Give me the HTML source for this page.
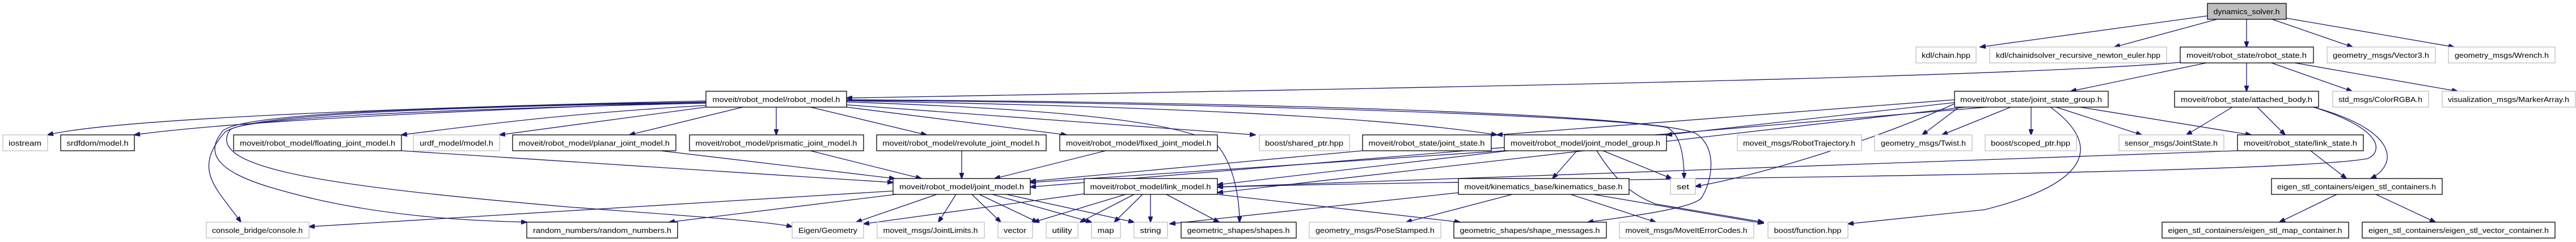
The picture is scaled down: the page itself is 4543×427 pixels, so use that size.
<!DOCTYPE html>
<html><head><meta charset="utf-8"><style>
html,body{margin:0;padding:0;background:#fff;}
svg{display:block;}
text{font-family:"Liberation Sans",sans-serif;font-size:13px;fill:#000;}
.e{fill:none;stroke:#191970;stroke-width:1.3;}
.b{fill:#fff;stroke:#000;stroke-width:1.3;}
.g{fill:#fff;stroke:#bfbfbf;stroke-width:1.3;}
</style></head><body>
<svg width="4543" height="427" viewBox="0 0 4543 427" xmlns="http://www.w3.org/2000/svg">
<defs><marker id="a" markerWidth="11" markerHeight="8" refX="10" refY="4" orient="auto" markerUnits="userSpaceOnUse"><path d="M0,0 L11,4 L0,8 z" fill="#191970" stroke="#191970"/></marker></defs>
<g marker-end="url(#a)">
<!-- dynamics_solver -->
<path class="e" d="M3893,28 L3492,83"/>
<path class="e" d="M3910,34 L3729,83"/>
<path class="e" d="M3962,34 L3962,83"/>
<path class="e" d="M4007,34 L4149,83"/>
<path class="e" d="M4032,32 L4328,83"/>
<!-- robot_state -->
<path class="e" d="M3845,110 C3500,140 2200,160 1493,173"/>
<path class="e" d="M3891,111 L3652,161"/>
<path class="e" d="M3962,111 L3962,161"/>
<path class="e" d="M4006,111 L4148,161"/>
<path class="e" d="M4047,111 L4334,161"/>
<!-- robot_model -->
<path class="e" d="M1245,178 C700,190 200,210 84,238"/>
<path class="e" d="M1245,180 C800,195 400,215 237,238"/>
<path class="e" d="M1245,186 C1000,200 850,220 708,238"/>
<path class="e" d="M1245,189 L881,238"/>
<path class="e" d="M1310,189 L1110,238"/>
<path class="e" d="M1369,189 L1369,238"/>
<path class="e" d="M1429,189 L1634,238"/>
<path class="e" d="M1493,189 L1881,238"/>
<path class="e" d="M1493,185 L2214,238"/>
<path class="e" d="M1493,178 C1900,185 2400,200 2640,238"/>
<path class="e" d="M1493,177 C2000,180 2800,200 2940,225 Q2970,240 2970,315"/>
<path class="e" d="M1493,176 C2200,180 2900,200 2990,235 C3030,260 3020,320 3000,350 C2980,370 2850,385 2800,392"/>
<path class="e" d="M1493,180 C1800,190 2100,210 2150,260 C2180,300 2186,360 2186,392"/>
<path class="e" d="M1245,181 C700,190 420,205 395,235 C340,300 380,330 425,392"/>
<path class="e" d="M1245,180 C650,190 400,205 390,235 C340,300 470,330 550,350 C700,385 850,390 929,392"/>
<path class="e" d="M1245,182 C700,195 420,210 405,230 C360,300 600,330 1000,365 C1200,380 1350,390 1397,400"/>
<!-- *_joint_model -> joint_model -->
<path class="e" d="M708,266 L1575,322"/>
<path class="e" d="M1165,266 L1578,315"/>
<path class="e" d="M1429,266 L1625,315"/>
<path class="e" d="M1696,266 L1696,315"/>
<path class="e" d="M1950,266 L1754,315"/>
<!-- joint_model -->
<path class="e" d="M1575,337 L545,400"/>
<path class="e" d="M1580,343 L1180,392"/>
<path class="e" d="M1652,343 L1510,392"/>
<path class="e" d="M1686,343 L1655,392"/>
<path class="e" d="M1714,343 L1765,392"/>
<path class="e" d="M1727,343 L1830,392"/>
<path class="e" d="M1750,343 L1925,392"/>
<path class="e" d="M1775,343 L2000,392"/>
<!-- link_model -->
<path class="e" d="M1912,342 L1523,395"/>
<path class="e" d="M1985,343 L1823,392"/>
<path class="e" d="M2000,343 L1905,392"/>
<path class="e" d="M2015,343 L1965,392"/>
<path class="e" d="M2029,343 L2029,392"/>
<path class="e" d="M2057,343 L2150,392"/>
<path class="e" d="M2147,343 L2575,392"/>
<!-- joint_model_group -->
<path class="e" d="M2653,266 L1817,322"/>
<path class="e" d="M2660,266 L2147,326"/>
<path class="e" d="M2781,266 L2738,315"/>
<path class="e" d="M2827,266 L2948,315"/>
<path class="e" d="M2816,266 C2850,320 2880,345 2920,360 L3110,392"/>
<!-- joint_state -->
<path class="e" d="M2403,266 L1817,320"/>
<!-- kinematics_base -->
<path class="e" d="M2572,340 L2063,395"/>
<path class="e" d="M2667,343 L2480,392"/>
<path class="e" d="M2770,343 L2920,392"/>
<path class="e" d="M2810,343 L3110,394"/>
<!-- joint_state_group -->
<path class="e" d="M3447,181 L2939,238"/>
<path class="e" d="M3447,176 L2640,238"/>
<path class="e" d="M3505,189 L1817,330"/>
<path class="e" d="M3466,189 L2147,340"/>
<path class="e" d="M3455,189 L3390,238"/>
<path class="e" d="M3546,189 L3425,238"/>
<path class="e" d="M3582,189 L3582,238"/>
<path class="e" d="M3626,189 L3777,238"/>
<path class="e" d="M3668,189 L3970,238"/>
<path class="e" d="M3616,189 C3700,250 3700,320 3500,370 L3259,395"/>
<path class="e" d="M3447,183 C3300,250 3100,310 2990,329"/>
<!-- attached_body -->
<path class="e" d="M3937,189 L3856,238"/>
<path class="e" d="M3981,189 L4030,238"/>
<path class="e" d="M4080,189 C4230,230 4230,290 4181,315"/>
<path class="e" d="M4080,189 C4210,230 4200,270 4175,280 C4000,310 2700,315 2147,330"/>
<!-- link_state -->
<path class="e" d="M3946,266 L2147,330"/>
<path class="e" d="M4075,266 L4138,315"/>
<!-- eigen_stl -->
<path class="e" d="M4121,343 L4020,392"/>
<path class="e" d="M4190,343 L4295,392"/>
</g>
<!-- nodes -->
<g>
<rect x="3893" y="6" width="139" height="28" fill="#bfbfbf" stroke="#000" stroke-width="1.3"/><text x="3962" y="25" text-anchor="middle" textLength="117" lengthAdjust="spacingAndGlyphs">dynamics_solver.h</text>
<rect class="g" x="3379" y="83" width="106" height="28"/><text x="3432" y="102" text-anchor="middle" textLength="86" lengthAdjust="spacingAndGlyphs">kdl/chain.hpp</text>
<rect class="g" x="3509" y="83" width="312" height="28"/><text x="3665" y="102" text-anchor="middle" textLength="290" lengthAdjust="spacingAndGlyphs">kdl/chainidsolver_recursive_newton_euler.hpp</text>
<rect class="b" x="3845" y="83" width="235" height="28"/><text x="3962" y="102" text-anchor="middle" textLength="212" lengthAdjust="spacingAndGlyphs">moveit/robot_state/robot_state.h</text>
<rect class="g" x="4104" y="83" width="191" height="28"/><text x="4199" y="102" text-anchor="middle" textLength="170" lengthAdjust="spacingAndGlyphs">geometry_msgs/Vector3.h</text>
<rect class="g" x="4318" y="83" width="188" height="28"/><text x="4412" y="102" text-anchor="middle" textLength="166" lengthAdjust="spacingAndGlyphs">geometry_msgs/Wrench.h</text>

<rect class="b" x="1245" y="161" width="248" height="28"/><text x="1369" y="180" text-anchor="middle" textLength="225" lengthAdjust="spacingAndGlyphs">moveit/robot_model/robot_model.h</text>
<rect class="b" x="3447" y="161" width="271" height="28"/><text x="3582" y="180" text-anchor="middle" textLength="250" lengthAdjust="spacingAndGlyphs">moveit/robot_state/joint_state_group.h</text>
<rect class="b" x="3835" y="161" width="254" height="28"/><text x="3962" y="180" text-anchor="middle" textLength="232" lengthAdjust="spacingAndGlyphs">moveit/robot_state/attached_body.h</text>
<rect class="g" x="4114" y="161" width="169" height="28"/><text x="4198" y="180" text-anchor="middle" textLength="148" lengthAdjust="spacingAndGlyphs">std_msgs/ColorRGBA.h</text>
<rect class="g" x="4307" y="161" width="235" height="28"/><text x="4424" y="180" text-anchor="middle" textLength="214" lengthAdjust="spacingAndGlyphs">visualization_msgs/MarkerArray.h</text>

<rect class="g" x="5" y="238" width="79" height="28"/><text x="44" y="257" text-anchor="middle" textLength="58" lengthAdjust="spacingAndGlyphs">iostream</text>
<rect class="b" x="107" y="238" width="130" height="28"/><text x="172" y="257" text-anchor="middle" textLength="109" lengthAdjust="spacingAndGlyphs">srdfdom/model.h</text>
<rect class="b" x="412" y="238" width="296" height="28"/><text x="560" y="257" text-anchor="middle" textLength="274" lengthAdjust="spacingAndGlyphs">moveit/robot_model/floating_joint_model.h</text>
<rect class="g" x="729" y="238" width="152" height="28"/><text x="805" y="257" text-anchor="middle" textLength="130" lengthAdjust="spacingAndGlyphs">urdf_model/model.h</text>
<rect class="b" x="904" y="238" width="288" height="28"/><text x="1048" y="257" text-anchor="middle" textLength="266" lengthAdjust="spacingAndGlyphs">moveit/robot_model/planar_joint_model.h</text>
<rect class="b" x="1216" y="238" width="307" height="28"/><text x="1369" y="257" text-anchor="middle" textLength="285" lengthAdjust="spacingAndGlyphs">moveit/robot_model/prismatic_joint_model.h</text>
<rect class="b" x="1546" y="238" width="299" height="28"/><text x="1695" y="257" text-anchor="middle" textLength="277" lengthAdjust="spacingAndGlyphs">moveit/robot_model/revolute_joint_model.h</text>
<rect class="b" x="1869" y="238" width="278" height="28"/><text x="2008" y="257" text-anchor="middle" textLength="256" lengthAdjust="spacingAndGlyphs">moveit/robot_model/fixed_joint_model.h</text>
<rect class="g" x="2221" y="238" width="159" height="28"/><text x="2300" y="257" text-anchor="middle" textLength="138" lengthAdjust="spacingAndGlyphs">boost/shared_ptr.hpp</text>
<rect class="b" x="2403" y="238" width="227" height="28"/><text x="2516" y="257" text-anchor="middle" textLength="205" lengthAdjust="spacingAndGlyphs">moveit/robot_state/joint_state.h</text>
<rect class="b" x="2653" y="238" width="286" height="28"/><text x="2796" y="257" text-anchor="middle" textLength="264" lengthAdjust="spacingAndGlyphs">moveit/robot_model/joint_model_group.h</text>
<rect class="g" x="3064" y="238" width="219" height="28"/><text x="3173" y="257" text-anchor="middle" textLength="198" lengthAdjust="spacingAndGlyphs">moveit_msgs/RobotTrajectory.h</text>
<rect class="g" x="3306" y="238" width="172" height="28"/><text x="3392" y="257" text-anchor="middle" textLength="150" lengthAdjust="spacingAndGlyphs">geometry_msgs/Twist.h</text>
<rect class="g" x="3501" y="238" width="161" height="28"/><text x="3581" y="257" text-anchor="middle" textLength="140" lengthAdjust="spacingAndGlyphs">boost/scoped_ptr.hpp</text>
<rect class="g" x="3737" y="238" width="185" height="28"/><text x="3829" y="257" text-anchor="middle" textLength="164" lengthAdjust="spacingAndGlyphs">sensor_msgs/JointState.h</text>
<rect class="b" x="3946" y="238" width="222" height="28"/><text x="4057" y="257" text-anchor="middle" textLength="200" lengthAdjust="spacingAndGlyphs">moveit/robot_state/link_state.h</text>

<rect class="b" x="1575" y="315" width="242" height="28"/><text x="1696" y="334" text-anchor="middle" textLength="220" lengthAdjust="spacingAndGlyphs">moveit/robot_model/joint_model.h</text>
<rect class="b" x="1912" y="315" width="235" height="28"/><text x="2029" y="334" text-anchor="middle" textLength="213" lengthAdjust="spacingAndGlyphs">moveit/robot_model/link_model.h</text>
<rect class="b" x="2572" y="315" width="301" height="28"/><text x="2722" y="334" text-anchor="middle" textLength="279" lengthAdjust="spacingAndGlyphs">moveit/kinematics_base/kinematics_base.h</text>
<rect class="g" x="2946" y="315" width="44" height="28"/><text x="2968" y="334" text-anchor="middle" textLength="22" lengthAdjust="spacingAndGlyphs">set</text>
<rect class="b" x="4006" y="315" width="301" height="28"/><text x="4156" y="334" text-anchor="middle" textLength="280" lengthAdjust="spacingAndGlyphs">eigen_stl_containers/eigen_stl_containers.h</text>

<rect class="g" x="364" y="392" width="181" height="28"/><text x="454" y="411" text-anchor="middle" textLength="160" lengthAdjust="spacingAndGlyphs">console_bridge/console.h</text>
<rect class="b" x="929" y="392" width="266" height="28"/><text x="1062" y="411" text-anchor="middle" textLength="244" lengthAdjust="spacingAndGlyphs">random_numbers/random_numbers.h</text>
<rect class="g" x="1397" y="392" width="126" height="28"/><text x="1460" y="411" text-anchor="middle" textLength="104" lengthAdjust="spacingAndGlyphs">Eigen/Geometry</text>
<rect class="g" x="1547" y="392" width="189" height="28"/><text x="1641" y="411" text-anchor="middle" textLength="167" lengthAdjust="spacingAndGlyphs">moveit_msgs/JointLimits.h</text>
<rect class="g" x="1760" y="392" width="61" height="28"/><text x="1790" y="411" text-anchor="middle" textLength="40" lengthAdjust="spacingAndGlyphs">vector</text>
<rect class="g" x="1845" y="392" width="56" height="28"/><text x="1873" y="411" text-anchor="middle" textLength="35" lengthAdjust="spacingAndGlyphs">utility</text>
<rect class="g" x="1925" y="392" width="51" height="28"/><text x="1950" y="411" text-anchor="middle" textLength="29" lengthAdjust="spacingAndGlyphs">map</text>
<rect class="g" x="2000" y="392" width="59" height="28"/><text x="2029" y="411" text-anchor="middle" textLength="37" lengthAdjust="spacingAndGlyphs">string</text>
<rect class="b" x="2083" y="392" width="203" height="28"/><text x="2184" y="411" text-anchor="middle" textLength="181" lengthAdjust="spacingAndGlyphs">geometric_shapes/shapes.h</text>
<rect class="g" x="2309" y="392" width="232" height="28"/><text x="2425" y="411" text-anchor="middle" textLength="210" lengthAdjust="spacingAndGlyphs">geometry_msgs/PoseStamped.h</text>
<rect class="b" x="2564" y="392" width="269" height="28"/><text x="2698" y="411" text-anchor="middle" textLength="247" lengthAdjust="spacingAndGlyphs">geometric_shapes/shape_messages.h</text>
<rect class="g" x="2856" y="392" width="237" height="28"/><text x="2974" y="411" text-anchor="middle" textLength="215" lengthAdjust="spacingAndGlyphs">moveit_msgs/MoveItErrorCodes.h</text>
<rect class="g" x="3118" y="392" width="141" height="28"/><text x="3188" y="411" text-anchor="middle" textLength="119" lengthAdjust="spacingAndGlyphs">boost/function.hpp</text>
<rect class="b" x="3813" y="392" width="329" height="28"/><text x="3977" y="411" text-anchor="middle" textLength="307" lengthAdjust="spacingAndGlyphs">eigen_stl_containers/eigen_stl_map_container.h</text>
<rect class="b" x="4166" y="392" width="340" height="28"/><text x="4336" y="411" text-anchor="middle" textLength="318" lengthAdjust="spacingAndGlyphs">eigen_stl_containers/eigen_stl_vector_container.h</text>
</g>
</svg>
</body></html>
